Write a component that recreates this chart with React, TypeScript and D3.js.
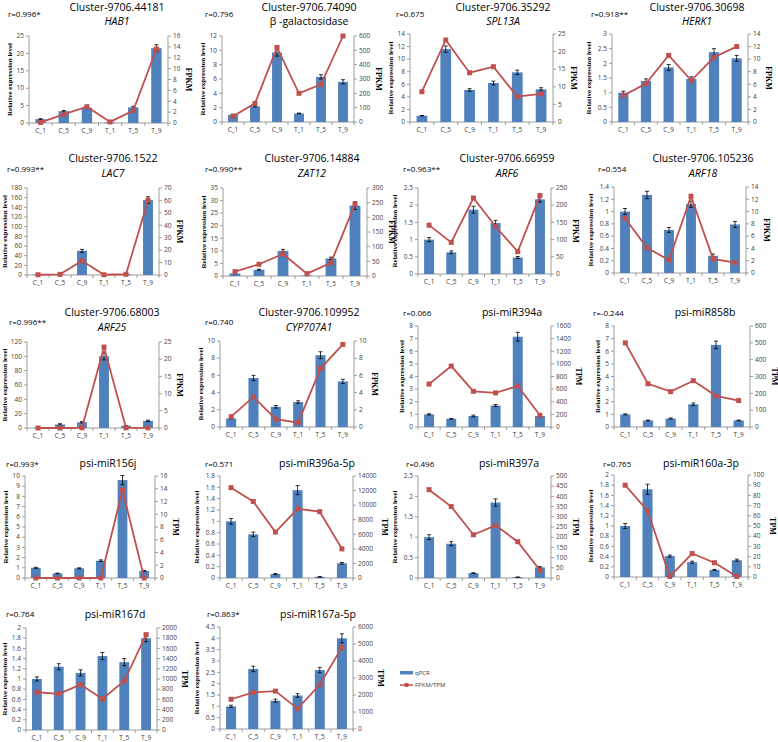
import React from "react";
import * as d3 from "d3";

const categories = ["C_1", "C_5", "C_9", "T_1", "T_5", "T_9"];

const clusterTitles = [
  "Cluster-9706.44181", "Cluster-9706.74090", "Cluster-9706.35292", "Cluster-9706.30698",
  "Cluster-9706.1522", "Cluster-9706.14884", "Cluster-9706.66959", "Cluster-9706.105236",
  "Cluster-9706.68003", "Cluster-9706.109952", "psi-miR394a", "psi-miR858b",
  "psi-miR156j", "psi-miR396a-5p", "psi-miR397a", "psi-miR160a-3p",
  "psi-miR167d", "psi-miR167a-5p",
];
const geneNames = [
  "HAB1", "β -galactosidase", "SPL13A", "HERK1", "LAC7", "ZAT12", "ARF6", "ARF18",
  "ARF25", "CYP707A1", "", "", "", "", "", "", "", "",
];
const geneItalic = [true, false, true, true, true, true, true, true, true, true, false, false, false, false, false, false, false, false];
const correlations = [
  "r=0.996*", "r=0.796", "r=0.675", "r=0.918**", "r=0.993**", "r=0.990**", "r=0.963**", "r=0.554",
  "r=0.996**", "r=0.740", "r=0.066", "r=-0.244", "r=0.993*", "r=0.571", "r=0.496", "r=0.765",
  "r=0.764", "r=0.863*",
];
const rightUnits = [
  "FPKM", "FPKM", "FPKM", "FPKM", "FPKM", "FPKM", "FPKM", "FPKM", "FPKM", "FPKM",
  "TPM", "TPM", "TPM", "TPM", "TPM", "TPM", "TPM", "TPM",
];

// qPCR relative expression (bars)
const qpcrValues = [
  [1.1, 3.4, 4.4, 0.2, 4.5, 21.5],
  [1.0, 2.2, 9.7, 1.2, 6.3, 5.6],
  [1.0, 11.6, 5.1, 6.2, 7.9, 5.2],
  [1.0, 1.4, 1.86, 1.47, 2.38, 2.17],
  [1.0, 1.5, 50, 0.5, 2, 155],
  [1.0, 2.5, 10, 0.2, 7, 28],
  [1.0, 0.63, 1.87, 1.48, 0.48, 2.17],
  [1.0, 1.27, 0.7, 1.12, 0.28, 0.79],
  [0.3, 5, 8, 100, 3, 10],
  [1.0, 5.7, 2.35, 2.9, 8.35, 5.3],
  [1.0, 0.65, 0.87, 1.7, 7.15, 0.87],
  [1.0, 0.52, 0.67, 1.8, 6.5, 0.52],
  [1.0, 0.45, 0.95, 1.7, 9.6, 0.7],
  [1.0, 0.77, 0.07, 1.55, 0.02, 0.26],
  [1.0, 0.84, 0.12, 1.85, 0.02, 0.26],
  [1.0, 1.72, 0.41, 0.29, 0.14, 0.33],
  [1.0, 1.24, 1.12, 1.45, 1.33, 1.8],
  [1.0, 2.65, 1.25, 1.48, 2.6, 4.0],
];
const qpcrErrors = [
  [0.15, 0.2, 0.25, 0.1, 0.3, 1.0],
  [0.08, 0.1, 0.5, 0.05, 0.3, 0.3],
  [0.05, 0.5, 0.2, 0.3, 0.35, 0.25],
  [0.05, 0.07, 0.1, 0.07, 0.12, 0.1],
  [0.5, 0.5, 3, 0.3, 0.5, 7],
  [0.1, 0.2, 0.6, 0.05, 0.5, 1.5],
  [0.06, 0.04, 0.1, 0.08, 0.03, 0.08],
  [0.05, 0.06, 0.04, 0.05, 0.03, 0.05],
  [0.2, 1, 1, 5, 0.5, 1],
  [0.05, 0.3, 0.15, 0.15, 0.4, 0.25],
  [0.05, 0.03, 0.07, 0.08, 0.35, 0.05],
  [0.04, 0.03, 0.04, 0.1, 0.3, 0.03],
  [0.05, 0.03, 0.05, 0.08, 0.45, 0.04],
  [0.05, 0.04, 0.01, 0.08, 0.005, 0.015],
  [0.06, 0.05, 0.01, 0.09, 0.005, 0.02],
  [0.05, 0.1, 0.02, 0.02, 0.01, 0.02],
  [0.04, 0.06, 0.06, 0.07, 0.07, 0.07],
  [0.05, 0.12, 0.07, 0.08, 0.12, 0.2],
];
// FPKM / TPM (line)
const seqValues = [
  [0.1, 1.6, 3.0, 0.2, 2.3, 13.6],
  [40, 130, 520, 200, 263, 600],
  [8.6, 23.3, 14.0, 15.7, 7.2, 8.0],
  [4.2, 6.1, 10.6, 6.6, 10.3, 12.0],
  [0.2, 0.5, 11.5, 0.2, 0.6, 60],
  [15, 40, 75, 8, 45, 245],
  [142, 92, 221, 138, 65, 228],
  [8.9, 4.1, 2.1, 12.5, 2.3, 1.7],
  [0, 0, 0.05, 23.5, 0.05, 0.05],
  [1.2, 3.5, 0.9, 0.5, 6.8, 9.6],
  [680, 965, 565, 540, 650, 185],
  [500, 257, 210, 275, 185, 157],
  [0, 0, 0, 0, 13.8, 0],
  [12400, 10500, 6300, 9500, 9100, 4000],
  [433, 350, 212, 258, 178, 38],
  [90, 65, 0.5, 23, 14, 0.5],
  [740, 710, 890, 610, 960, 1870],
  [1750, 2150, 2230, 1200, 2600, 4800],
];
const leftMax = [25, 12, 14, 3, 180, 35, 2.5, 1.4, 120, 10, 8, 8, 10, 1.8, 2.5, 2, 2, 4.5];
const leftStep = [5, 2, 2, 0.5, 20, 5, 0.5, 0.2, 20, 2, 1, 1, 1, 0.2, 0.5, 0.2, 0.2, 0.5];
const rightMax = [16, 600, 25, 14, 70, 300, 250, 14, 25, 10, 1600, 600, 16, 14000, 500, 100, 2000, 6000];
const rightStep = [2, 100, 5, 2, 10, 50, 50, 2, 5, 2, 200, 100, 2, 2000, 50, 10, 200, 1000];
const legendLabels = ["qPCR", "FPKM/TPM"];

// layout: [left, right, top, bottom, titleX, titleY, geneY, rX, rY]
const layout = [
  [29, 168, 36, 123, 117, 11, 25, 8, 17],
  [222, 354, 36, 122, 309, 11, 25, 205, 17],
  [410, 553, 34, 122, 503, 11, 25, 396, 17],
  [612, 748, 34, 122, 697, 11, 25, 591, 17],
  [27, 159, 188, 275, 113, 162, 177, 7, 172],
  [223, 367, 188, 276, 312, 162, 177, 205, 172],
  [418, 551, 188, 274, 507, 162, 177, 403, 172],
  [614, 746, 187, 273, 703, 162, 177, 598, 172],
  [27, 159, 342, 428, 112, 316, 331, 9, 325],
  [220, 354, 341, 427, 309, 316, 331, 205, 325],
  [418, 551, 326, 427, 512, 316, 0, 403, 316],
  [614, 750, 326, 427, 705, 316, 0, 593, 316],
  [25, 155, 476, 578, 108, 467, 0, 6, 467],
  [220, 353, 476, 578, 317, 467, 0, 205, 467],
  [418, 551, 476, 578, 509, 467, 0, 406, 467],
  [614, 748, 475, 577, 701, 467, 0, 603, 467],
  [26, 157, 628, 730, 115, 618, 0, 6, 617],
  [220, 353, 627, 729, 318, 618, 0, 207, 617],
];

const BAR = "#4F81BD";
const LINE = "#C0504D";
const AXIS = "#868686";
const TICKTXT = "#404040";
const SANS = "'Open Sans', 'Liberation Sans', sans-serif";
const SERIF = "'Liberation Serif', 'DejaVu Serif', serif";
const CHAR_W = 3.6;

const fmt = (v: number) => d3.format("~g")(+v.toFixed(6));

function Panel({ i }: { i: number }) {
  const [L, R, T, B, tx, ty, gy, rx, ry] = layout[i];
  const x = d3.scaleBand<string>().domain(categories).range([L, R]).padding(0);
  const yL = d3.scaleLinear().domain([0, leftMax[i]]).range([B, T]);
  const yR = d3.scaleLinear().domain([0, rightMax[i]]).range([B, T]);
  const ticksL = d3.range(0, leftMax[i] + leftStep[i] / 2, leftStep[i]);
  const ticksR = d3.range(0, rightMax[i] + rightStep[i] / 2, rightStep[i]);
  const wL = d3.max(ticksL, (t) => fmt(t).length) as number;
  const wR = d3.max(ticksR, (t) => fmt(t).length) as number;
  const bw = x.bandwidth() * 0.45;
  const line = d3
    .line<number>()
    .x((_, k) => (x(categories[k]) as number) + x.bandwidth() / 2)
    .y((d) => yR(d));
  const midY = (T + B) / 2;
  const leftTitleX = Math.max(7, L - 5 - wL * CHAR_W - 5);
  const rightTitleX = R + 5 + wR * CHAR_W + 6;
  return (
    <g>
      <text x={tx} y={ty} textAnchor="middle" fontFamily={SANS} fontSize={10.5} fill="#000">
        {clusterTitles[i]}
      </text>
      {geneNames[i] && (
        <text x={tx} y={gy} textAnchor="middle" fontFamily={SANS} fontSize={10.5}
          fontStyle={geneItalic[i] ? "italic" : "normal"} fill="#000">
          {geneNames[i]}
        </text>
      )}
      <text x={rx} y={ry} fontFamily={SANS} fontSize={8} fill="#000">
        {correlations[i]}
      </text>
      {/* axes */}
      <line x1={L} x2={L} y1={T} y2={B} stroke={AXIS} strokeWidth={0.8} />
      <line x1={R} x2={R} y1={T} y2={B} stroke={AXIS} strokeWidth={0.8} />
      <line x1={L} x2={R} y1={B} y2={B} stroke={AXIS} strokeWidth={0.8} />
      {ticksL.map((t, k) => (
        <g key={"l" + k}>
          <line x1={L - 3} x2={L} y1={yL(t)} y2={yL(t)} stroke={AXIS} strokeWidth={0.8} />
          <text x={L - 5} y={yL(t)} dy="0.35em" textAnchor="end" fontFamily={SANS} fontSize={6.5} fill={TICKTXT}>
            {fmt(t)}
          </text>
        </g>
      ))}
      {ticksR.map((t, k) => (
        <g key={"r" + k}>
          <line x1={R} x2={R + 3} y1={yR(t)} y2={yR(t)} stroke={AXIS} strokeWidth={0.8} />
          <text x={R + 5} y={yR(t)} dy="0.35em" textAnchor="start" fontFamily={SANS} fontSize={6.5} fill={TICKTXT}>
            {fmt(t)}
          </text>
        </g>
      ))}
      {categories.map((c, k) => (
        <g key={"x" + k}>
          <line x1={(x(c) as number)} x2={(x(c) as number)} y1={B} y2={B + 3} stroke={AXIS} strokeWidth={0.8} />
          <text x={(x(c) as number) + x.bandwidth() / 2} y={B + 10} textAnchor="middle" fontFamily={SANS} fontSize={6.5} fill={TICKTXT}>
            {c}
          </text>
        </g>
      ))}
      <line x1={R} x2={R} y1={B} y2={B + 3} stroke={AXIS} strokeWidth={0.8} />
      {/* axis titles */}
      <text transform={`translate(${leftTitleX},${midY}) rotate(-90)`} textAnchor="middle" fontFamily={SERIF}
        fontWeight="bold" fontSize={7} fill="#000">
        Relative expression level
      </text>
      <text transform={`translate(${rightTitleX},${midY}) rotate(90)`} textAnchor="middle" fontFamily={SERIF}
        fontWeight="bold" fontSize={8} fill="#000">
        {rightUnits[i]}
      </text>
      {/* bars */}
      {qpcrValues[i].map((v, k) => {
        const cx = (x(categories[k]) as number) + x.bandwidth() / 2;
        const e = qpcrErrors[i][k];
        return (
          <g key={"b" + k}>
            <rect x={cx - bw / 2} y={yL(v)} width={bw} height={B - yL(v)} fill={BAR} />
            <line x1={cx} x2={cx} y1={yL(v + e)} y2={yL(Math.max(0, v - e))} stroke="#000" strokeWidth={0.8} />
            <line x1={cx - 2} x2={cx + 2} y1={yL(v + e)} y2={yL(v + e)} stroke="#000" strokeWidth={0.8} />
            <line x1={cx - 2} x2={cx + 2} y1={yL(Math.max(0, v - e))} y2={yL(Math.max(0, v - e))} stroke="#000" strokeWidth={0.8} />
          </g>
        );
      })}
      {/* line */}
      <path d={line(seqValues[i]) as string} fill="none" stroke={LINE} strokeWidth={1.8} />
      {seqValues[i].map((v, k) => {
        const cx = (x(categories[k]) as number) + x.bandwidth() / 2;
        return <rect key={"m" + k} x={cx - 2.5} y={yR(v) - 2.5} width={5} height={5} fill={LINE} />;
      })}
    </g>
  );
}

export default function App() {
  return (
    <svg width={778} height={742} style={{ position: "absolute", left: 0, top: 0, background: "#fff" }}>
      <rect x={0} y={0} width={778} height={742} fill="#fff" />
      {clusterTitles.map((_, i) => (
        <Panel key={i} i={i} />
      ))}
      <g>
        <rect x={400} y={671} width={13} height={3.5} fill={BAR} />
        <text x={415} y={675} fontFamily={SANS} fontSize={6} fill="#404040">{legendLabels[0]}</text>
        <line x1={400} x2={413} y1={685} y2={685} stroke={LINE} strokeWidth={1.5} />
        <rect x={404.5} y={683} width={4} height={4} fill={LINE} />
        <text x={415} y={687} fontFamily={SANS} fontSize={6} fill="#404040">{legendLabels[1]}</text>
      </g>
    </svg>
  );
}
